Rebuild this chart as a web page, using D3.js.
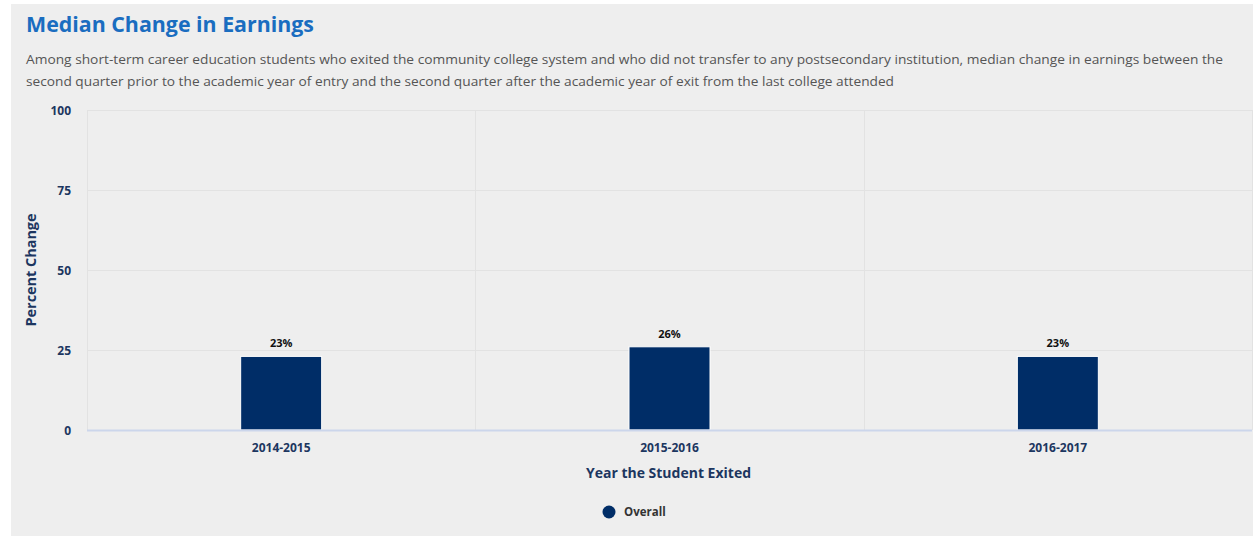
<!DOCTYPE html>
<html>
<head>
<meta charset="utf-8">
<script src="https://cdn.jsdelivr.net/npm/d3@7"></script>
<style>
  html, body { margin: 0; padding: 0; background: #ffffff; }
  svg { display: block; font-family: "Open Sans", "Noto Sans", sans-serif; }
</style>
</head>
<body>
<svg id="chart" width="1257" height="536"></svg>
<script>
// Chart data
const categories = ["2014-2015", "2015-2016", "2016-2017"];
const seriesName = "Overall";
const values = [23, 26, 23];
const yTicks = [0, 25, 50, 75, 100];

const titleText = "Median Change in Earnings";
const subtitleLines = [
  "Among short-term career education students who exited the community college system and who did not transfer to any postsecondary institution, median change in earnings between the",
  "second quarter prior to the academic year of entry and the second quarter after the academic year of exit from the last college attended"
];
const xTitle = "Year the Student Exited";
const yTitle = "Percent Change";

const navy = "#002d67";
const labelColor = "#1c3660";

const svg = d3.select("#chart");

// Panel background
svg.append("rect")
  .attr("x", 11).attr("y", 4)
  .attr("width", 1242).attr("height", 532)
  .attr("fill", "#eeeeee");

// Title and subtitle
svg.append("text")
  .attr("x", 26).attr("y", 32)
  .attr("fill", "#1a6dc0")
  .attr("font-size", 22)
  .attr("font-weight", 700)
  .attr("textLength", 288)
  .attr("lengthAdjust", "spacingAndGlyphs")
  .text(titleText);

const subWidths = [1197, 868];
svg.selectAll("text.sub")
  .data(subtitleLines)
  .join("text")
  .attr("class", "sub")
  .attr("x", 26)
  .attr("y", (d, i) => 64 + i * 22)
  .attr("fill", "#555555")
  .attr("font-size", 13.5)
  .attr("textLength", (d, i) => subWidths[i])
  .attr("lengthAdjust", "spacingAndGlyphs")
  .text(d => d);

// Plot area
const plot = { left: 87, right: 1252, top: 110, bottom: 430 };

const x = d3.scaleBand()
  .domain(categories)
  .range([plot.left, plot.right])
  .paddingInner(0)
  .paddingOuter(0);

const y = d3.scaleLinear()
  .domain([0, 100])
  .range([plot.bottom, plot.top]);

// Horizontal grid lines
svg.append("g")
  .selectAll("line")
  .data(yTicks.filter(t => t > 0))
  .join("line")
  .attr("x1", plot.left).attr("x2", plot.right)
  .attr("y1", d => y(d) + 0.5).attr("y2", d => y(d) + 0.5)
  .attr("stroke", "#e2e2e2")
  .attr("stroke-width", 1);

// Vertical grid lines at category boundaries
const boundaries = categories.map(c => x(c)).concat([plot.right]);
svg.append("g")
  .selectAll("line")
  .data(boundaries)
  .join("line")
  .attr("x1", d => Math.round(d) + 0.5).attr("x2", d => Math.round(d) + 0.5)
  .attr("y1", plot.top).attr("y2", plot.bottom)
  .attr("stroke", "#e2e2e2")
  .attr("stroke-width", 1);

// Y axis tick labels
const yAxis = d3.axisLeft(y).tickValues(yTicks).tickSize(0).tickPadding(0);
const gy = svg.append("g")
  .attr("transform", `translate(${plot.left - 16},0)`)
  .call(yAxis);
gy.select(".domain").remove();
gy.selectAll("text")
  .attr("fill", labelColor)
  .attr("font-size", 12)
  .attr("font-weight", 700)
  .attr("font-family", "'Open Sans', sans-serif")
  .attr("dy", "0.35em");

// Bars
const barW = 81;
svg.append("g")
  .selectAll("rect")
  .data(values)
  .join("rect")
  .attr("x", (d, i) => x(categories[i]) + x.bandwidth() / 2 - barW / 2)
  .attr("y", d => y(d))
  .attr("width", barW)
  .attr("height", d => y(0) - y(d))
  .attr("fill", navy)
  .attr("stroke", "#ffffff")
  .attr("stroke-width", 1);

// Value labels
svg.append("g")
  .selectAll("text")
  .data(values)
  .join("text")
  .attr("x", (d, i) => x(categories[i]) + x.bandwidth() / 2)
  .attr("y", d => y(d) - 9)
  .attr("text-anchor", "middle")
  .attr("fill", "#111111")
  .attr("font-size", 11)
  .attr("font-weight", 700)
  .text(d => d + "%");

// X axis line
svg.append("line")
  .attr("x1", plot.left).attr("x2", plot.right)
  .attr("y1", plot.bottom + 0.5).attr("y2", plot.bottom + 0.5)
  .attr("stroke", "#ccd6eb")
  .attr("stroke-width", 2);

// X axis tick labels
const xAxis = d3.axisBottom(x).tickSize(0).tickPadding(0);
const gx = svg.append("g")
  .attr("transform", `translate(0,${plot.bottom + 22})`)
  .call(xAxis);
gx.select(".domain").remove();
gx.selectAll("text")
  .attr("fill", labelColor)
  .attr("font-size", 12)
  .attr("font-weight", 700)
  .attr("font-family", "'Open Sans', sans-serif")
  .attr("dy", 0);

// Axis titles
svg.append("text")
  .attr("x", (plot.left + plot.right) / 2 - 1)
  .attr("y", 478)
  .attr("text-anchor", "middle")
  .attr("fill", labelColor)
  .attr("font-size", 14)
  .attr("font-weight", 700)
  .text(xTitle);

svg.append("text")
  .attr("transform", `translate(36,${(plot.top + plot.bottom) / 2}) rotate(-90)`)
  .attr("text-anchor", "middle")
  .attr("fill", labelColor)
  .attr("font-size", 14)
  .attr("font-weight", 700)
  .attr("textLength", 113)
  .attr("lengthAdjust", "spacingAndGlyphs")
  .text(yTitle);

// Legend
const legend = svg.append("g").attr("transform", "translate(609,512)");
legend.append("circle").attr("r", 6.5).attr("fill", navy);
legend.append("text")
  .attr("x", 15).attr("y", 4)
  .attr("fill", "#333333")
  .attr("font-size", 11.5)
  .attr("font-weight", 700)
  .text(seriesName);
</script>
</body>
</html>
